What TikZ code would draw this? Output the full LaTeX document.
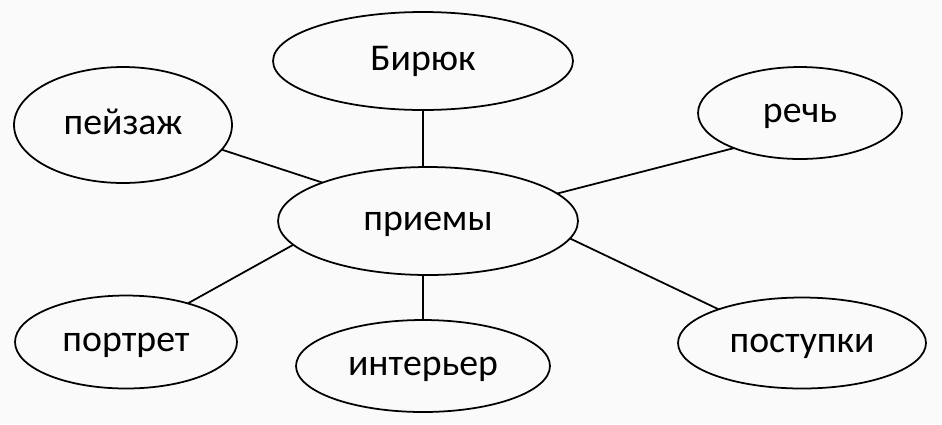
\documentclass[tikz,border=0pt]{standalone}
\usepackage{fontspec}
\setmainfont{Carlito}
\usetikzlibrary{shapes.geometric}

\begin{document}
\begin{tikzpicture}[
  x=0.02cm, y=-0.02cm,
  oval/.style={draw, ellipse, line width=1pt, inner sep=0pt, outer sep=0pt,
    text height=2.5ex, text depth=0.2ex, font=\fontsize{21.5}{25}\selectfont},
  link/.style={line width=1pt}
]
  \useasboundingbox[fill=black!2] (0,0) rectangle (942,424);

  % центральный овал
  \node[oval, minimum width=6cm, minimum height=2.16cm] (priemy) at (428,221) {приемы};

  % овалы вокруг
  \node[oval, minimum width=6cm, minimum height=1.96cm] (birjuk) at (423,61) {Бирюк};
  \node[oval, minimum width=4.36cm, minimum height=2.32cm] (pejzazh) at (123,125) {пейзаж};
  \node[oval, minimum width=4.08cm, minimum height=1.84cm] (rech) at (800,113) {речь};
  \node[oval, minimum width=4.44cm, minimum height=1.86cm] (portret) at (126,342) {портрет};
  \node[oval, minimum width=5.08cm, minimum height=1.84cm] (interjer) at (423,366) {интерьер};
  \node[oval, minimum width=4.96cm, minimum height=1.82cm] (postupki) at (802,343) {поступки};

  % связи
  \draw[link] (birjuk.south) -- (birjuk.south |- priemy.north);
  \draw[link] (interjer.north) -- (interjer.north |- priemy.south);
  \draw[link] (pejzazh.-14.7) -- (priemy.160.8);
  \draw[link] (rech.208.9) -- (priemy.12.9);
  \draw[link] (portret.32.8) -- (priemy.190.9);
  \draw[link] (postupki.158.1) -- (priemy.353.3);
\end{tikzpicture}
\end{document}
